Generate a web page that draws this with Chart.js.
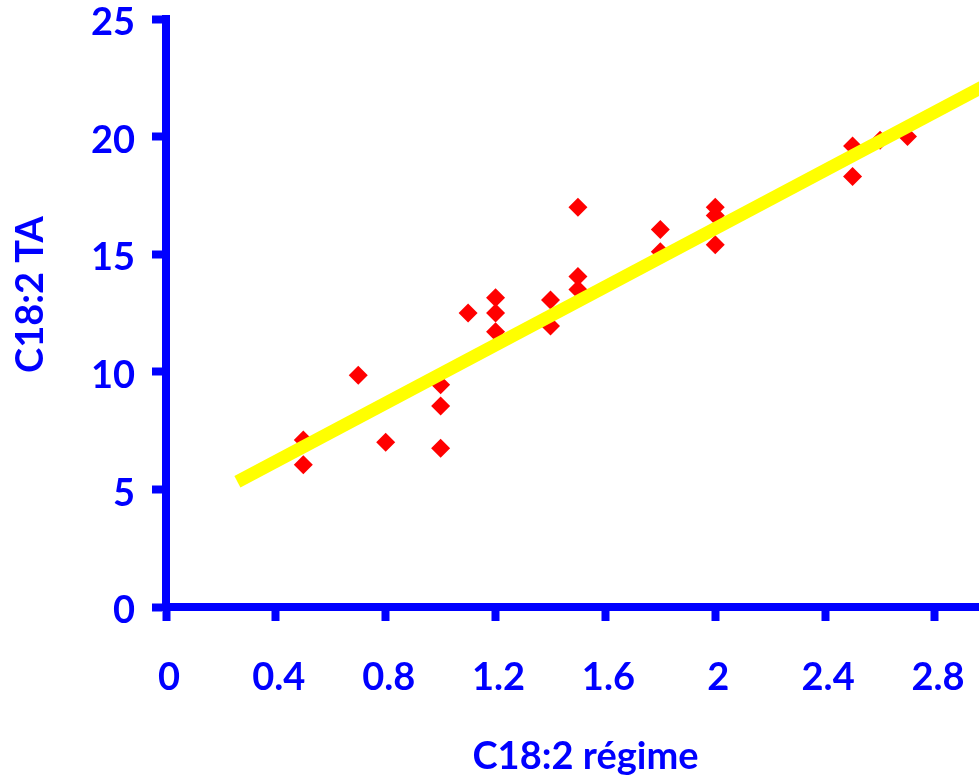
<!DOCTYPE html>
<html>
<head>
<meta charset="utf-8">
<script src="https://cdn.jsdelivr.net/npm/chart.js@4/dist/chart.umd.min.js"></script>
<style>
  html, body { margin: 0; padding: 0; overflow: hidden; background: #fff; }
  #wrap { position: relative; width: 1005px; height: 781px; }
</style>
</head>
<body>
<div id="wrap"><canvas id="c"></canvas></div>
<script>
// measured points, C18:2 in diet (x) vs C18:2 in tissue (y)
const regimeX = [0.5, 0.5, 0.7, 0.8, 1.0, 1.0, 1.0, 1.1, 1.2, 1.2, 1.2, 1.4, 1.4,
                 1.5, 1.5, 1.5, 1.8, 1.8, 2.0, 2.0, 2.0, 2.5, 2.5, 2.6, 2.7];
const taY = [7.1, 6.05, 9.85, 7.0, 9.45, 8.55, 6.75, 12.5, 13.15, 12.5, 11.7, 13.05, 11.95,
             17.0, 14.05, 13.5, 16.05, 15.1, 17.0, 16.65, 15.4, 19.6, 18.3, 19.85, 20.0];

// trend line ends
const trendX = [0.26, 3.06];
const trendY = [5.33, 22.65];

const xTickLabels = ['0', '0.4', '0.8', '1.2', '1.6', '2', '2.4', '2.8'];
const yTickLabels = ['0', '5', '10', '15', '20', '25'];

const BLUE = '#0000ff';
const FONT = 'Lato, "Open Sans", sans-serif';

const points = regimeX.map((x, i) => ({ x: x, y: taY[i] }));
const trend = trendX.map((x, i) => ({ x: x, y: trendY[i] }));

const axisGrid = {
  drawOnChartArea: false,
  drawTicks: true,
  tickLength: 14,
  tickWidth: 8,
  tickColor: BLUE
};

new Chart(document.getElementById('c'), {
  type: 'scatter',
  data: {
    datasets: [
      {
        data: trend,
        showLine: true,
        borderColor: '#ffff00',
        borderWidth: 13,
        borderCapStyle: 'butt',
        pointRadius: 0,
        order: 0
      },
      {
        data: points,
        pointStyle: 'rectRot',
        pointRadius: 9.5,
        pointBorderWidth: 0,
        backgroundColor: '#ff0000',
        borderColor: '#ff0000',
        order: 1
      }
    ]
  },
  options: {
    responsive: true,
    maintainAspectRatio: false,
    animation: false,
    layout: { autoPadding: false, padding: { top: 19, left: 0, right: 0, bottom: 0 } },
    plugins: { legend: { display: false }, tooltip: { enabled: false } },
    scales: {
      x: {
        type: 'linear',
        min: 0,
        max: 3.055,
        grid: axisGrid,
        border: { display: true, color: BLUE, width: 8 },
        ticks: {
          stepSize: 0.4,
          includeBounds: false,
          padding: 38,
          labelOffset: 3,
          color: BLUE,
          maxRotation: 0,
          font: { family: FONT, size: 38, weight: 'bold', lineHeight: 1 },
          callback: (v, i) => xTickLabels[i]
        },
        title: {
          display: true,
          text: 'C18:2 régime',
          color: BLUE,
          padding: { top: 0, bottom: 5 },
          font: { family: FONT, size: 38, weight: 'bold', lineHeight: 1 }
        },
        afterFit: (s) => { s.height = 174; s.paddingLeft = 0; s.paddingRight = 0; }
      },
      y: {
        type: 'linear',
        min: 0,
        max: 25,
        grid: axisGrid,
        border: { display: true, color: BLUE, width: 8 },
        ticks: {
          stepSize: 5,
          padding: 17,
          labelOffset: 4,
          color: BLUE,
          font: { family: FONT, size: 38, weight: 'bold', lineHeight: 1 },
          callback: (v, i) => yTickLabels[i]
        },
        title: {
          display: true,
          text: '    C18:2 TA',
          color: BLUE,
          padding: { top: 12, bottom: 0 },
          font: { family: FONT, size: 38, weight: 'bold', lineHeight: 1 }
        },
        afterFit: (s) => { s.width = 166; s.paddingTop = 0; s.paddingBottom = 0; }
      }
    }
  }
});
</script>
</body>
</html>
